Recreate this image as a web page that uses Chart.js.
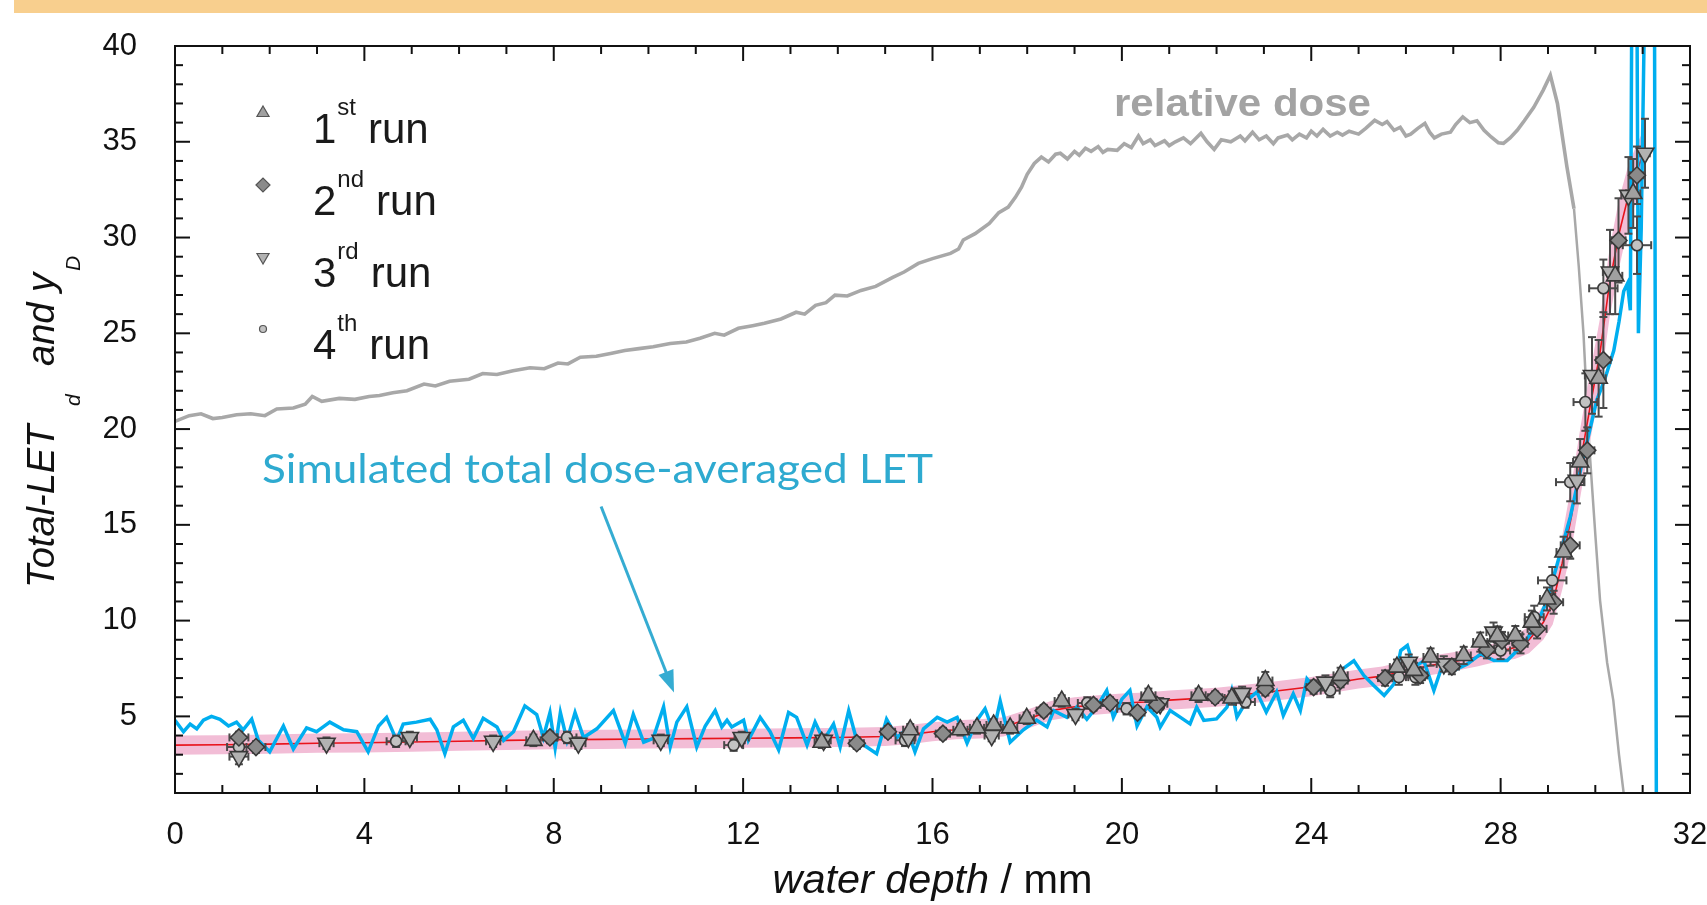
<!DOCTYPE html>
<html>
<head>
<meta charset="utf-8">
<script src="https://cdn.jsdelivr.net/npm/chart.js@4/dist/chart.umd.min.js"></script>
<style>
  html, body { margin: 0; padding: 0; background: #fff; overflow: hidden; }
  canvas { display: block; }
</style>
</head>
<body>
<canvas id="let-chart" width="1707" height="905"></canvas>
<script>
const FONT = '"Liberation Sans", Arial, sans-serif';

// relative dose (scaled onto the LET axis), [depth, value]
const dosePoints = [
  [0,20.4],[0.3,20.7],[0.55,20.8],[0.8,20.55],[1.0,20.6],[1.3,20.75],[1.6,20.8],[1.9,20.7],[2.15,21.05],[2.5,21.1],
  [2.75,21.3],[2.9,21.7],[3.1,21.45],[3.47,21.6],[3.8,21.55],[4.1,21.7],[4.32,21.75],[4.6,21.9],[4.9,22.0],[5.26,22.35],
  [5.5,22.25],[5.8,22.5],[6.21,22.6],[6.5,22.9],[6.8,22.85],[7.14,23.05],[7.5,23.2],[7.8,23.15],[8.09,23.45],[8.3,23.4],
  [8.56,23.75],[8.9,23.8],[9.2,23.95],[9.5,24.1],[9.8,24.2],[10.1,24.3],[10.46,24.47],[10.8,24.55],[11.09,24.74],[11.4,25.0],
  [11.6,24.9],[11.9,25.26],[12.2,25.4],[12.45,25.53],[12.8,25.75],[13.12,26.1],[13.3,26.0],[13.53,26.46],[13.75,26.6],[13.94,26.99],
  [14.2,26.95],[14.49,27.24],[14.8,27.45],[15.16,27.92],[15.4,28.2],[15.7,28.65],[16.0,28.9],[16.38,29.17],[16.55,29.4],[16.65,29.87],
  [16.9,30.2],[17.2,30.74],[17.4,31.3],[17.6,31.59],[17.75,32.1],[17.88,32.63],[18.0,33.3],[18.15,33.87],[18.3,34.2],[18.45,33.95],
  [18.6,34.35],[18.7,34.4],[18.85,34.1],[19.0,34.5],[19.1,34.3],[19.23,34.66],[19.35,34.5],[19.5,34.75],[19.6,34.45],[19.7,34.6],
  [19.9,34.55],[20.05,34.9],[20.2,34.7],[20.35,35.3],[20.45,34.9],[20.6,35.1],[20.7,34.8],[20.9,35.05],[21.0,34.8],[21.13,35.0],
  [21.3,35.2],[21.45,34.9],[21.67,35.44],[21.8,35.0],[21.95,34.6],[22.1,35.1],[22.3,35.0],[22.5,35.3],[22.6,35.05],[22.76,35.5],
  [22.9,35.1],[23.05,35.3],[23.2,34.9],[23.3,35.2],[23.5,35.35],[23.6,35.1],[23.75,35.4],[23.9,35.2],[24.0,35.55],[24.12,35.3],
  [24.25,35.65],[24.4,35.3],[24.55,35.5],[24.66,35.35],[24.8,35.55],[25.0,35.4],[25.15,35.7],[25.34,36.12],[25.5,35.9],[25.6,36.05],
  [25.75,35.6],[25.88,35.76],[26.0,35.3],[26.1,35.4],[26.25,35.7],[26.4,35.96],[26.5,35.5],[26.6,35.2],[26.75,35.4],[26.94,35.5],
  [27.05,35.9],[27.2,36.3],[27.35,36.0],[27.5,36.1],[27.65,35.6],[27.8,35.25],[27.95,34.95],[28.06,34.92],[28.2,35.2],[28.35,35.6],
  [28.5,36.1],[28.7,36.8],[28.9,37.7],[29.05,38.47],[29.2,37.0],[29.4,33.7],[29.55,31.5],[29.65,28.5],[29.75,25.0],[29.82,21.5],
  [29.87,19.2],[30.0,14.5],[30.1,11.06],[30.25,7.8],[30.38,5.84],[30.5,3.0],[30.6,0.97],[30.65,0]
];

// simulated total dose-averaged LET, [depth, value]
const simPoints = [
  [0,4.8],[0.18,4.2],[0.32,4.6],[0.46,4.35],[0.6,4.8],[0.77,5.0],[0.95,4.85],[1.13,4.5],[1.3,4.7],[1.44,4.3],
  [1.62,4.85],[1.76,3.75],[2.0,3.15],[2.29,4.5],[2.5,3.3],[2.78,4.4],[2.99,4.2],[3.13,4.45],[3.27,4.7],[3.56,4.3],
  [3.84,4.2],[4.08,3.15],[4.3,4.5],[4.47,4.95],[4.68,3.75],[4.82,4.6],[5.1,4.7],[5.39,4.85],[5.53,4.3],[5.7,3.05],
  [5.88,4.45],[6.09,4.8],[6.3,3.85],[6.51,4.9],[6.8,4.45],[6.94,3.75],[7.15,4.2],[7.39,5.55],[7.64,5.1],[7.78,3.9],
  [7.92,5.2],[8.03,3.35],[8.14,5.2],[8.28,3.75],[8.45,5.2],[8.63,3.9],[8.91,4.35],[9.26,5.3],[9.51,3.6],[9.68,5.1],
  [9.9,3.65],[10.1,3.85],[10.32,5.5],[10.46,3.4],[10.6,4.7],[10.81,5.5],[11.02,3.4],[11.2,4.5],[11.41,5.3],[11.55,4.45],
  [11.66,4.8],[11.76,4.45],[12.01,4.8],[12.11,3.75],[12.36,4.95],[12.57,4.2],[12.75,3.25],[12.96,5.2],[13.13,4.95],[13.35,3.5],
  [13.52,4.7],[13.7,3.75],[13.91,4.6],[14.05,3.4],[14.23,5.3],[14.4,3.75],[14.61,3.4],[14.82,3.05],[15.03,4.85],[15.25,3.9],
  [15.46,4.35],[15.63,3.15],[15.81,4.35],[16.1,4.95],[16.31,4.7],[16.52,4.95],[16.73,3.6],[16.94,4.8],[17.11,5.4],[17.29,4.2],
  [17.43,5.8],[17.64,3.65],[17.92,4.3],[18.2,4.8],[18.42,4.45],[18.56,5.3],[18.84,4.95],[19.05,5.5],[19.26,4.85],[19.47,5.5],
  [19.68,6.35],[19.82,4.95],[20.0,5.9],[20.17,6.35],[20.32,4.5],[20.53,5.5],[20.74,4.95],[20.81,4.44],[21.02,5.31],[21.23,4.96],
  [21.44,4.61],[21.58,5.48],[21.73,4.79],[22.0,4.87],[22.22,5.48],[22.32,6.35],[22.43,4.96],[22.64,5.83],[22.85,6.27],[23.05,5.22],
  [23.27,6.27],[23.41,5.05],[23.62,6.18],[23.77,5.31],[23.91,6.96],[24.12,6.35],[24.41,6.7],[24.62,7.4],[24.9,7.9],[25.11,7.14],
  [25.32,6.61],[25.54,6.09],[25.75,6.7],[25.89,8.44],[26.03,8.7],[26.17,7.57],[26.38,7.9],[26.59,6.35],[26.8,7.9],[27.01,7.4],
  [27.3,7.74],[27.58,8.26],[27.86,7.92],[28.14,7.92],[28.35,8.44],[28.56,9.05],[28.77,9.84],[28.98,11.06],[29.2,13.0],[29.47,15.4],
  [29.7,18.0],[29.85,19.6],[30.03,21.5],[30.2,22.6],[30.39,24.1],[30.5,25.6],[30.6,27.2],[30.68,27.6],[30.74,26.2],[30.77,42],
  [30.88,42],[30.91,25.0],[30.97,30.5],[31.04,42],[31.25,42],[31.29,0]
];

// fitted LET curve with its uncertainty band
const fitX = [0,1,2,3,4,5,6,7,8,9,10,11,12,13,14,15,15.5,16,16.5,17,17.5,18,18.5,19,19.5,20,20.5,21,22,23,24,25,25.5,26,26.5,27,27.5,28,28.3,28.6,28.9,29.1,29.3,29.5,29.7,29.9,30.1,30.3,30.5,30.7,30.9,31.0];
const fitY = [3.5,3.52,3.55,3.6,3.62,3.66,3.7,3.75,3.78,3.8,3.82,3.84,3.86,3.88,3.9,3.95,4.05,4.2,4.3,4.35,4.45,4.85,5.3,5.5,5.6,5.7,5.75,5.85,6.0,6.25,6.55,6.95,7.1,7.4,7.65,7.85,8.1,8.4,8.6,9.0,9.9,10.9,13.0,15.5,18.5,21.3,24.0,27.6,30.2,32.2,33.6,34.3];
const fitBand = [0.5,0.5,0.5,0.5,0.5,0.5,0.5,0.5,0.5,0.5,0.5,0.5,0.5,0.5,0.5,0.5,0.5,0.5,0.5,0.5,0.5,0.5,0.5,0.5,0.5,0.5,0.5,0.5,0.5,0.5,0.5,0.5,0.5,0.5,0.5,0.5,0.5,0.5,0.6,0.7,0.9,1.1,1.4,1.7,1.8,1.8,1.8,1.8,1.8,1.6,1.4,1.2];

// measured yD, [depth, value, depth error, value error]
const run1 = [[7.57,3.75,0.15,0.3],[13.66,3.65,0.15,0.3],[15.53,4.3,0.15,0.3],[16.59,4.3,0.15,0.3],[16.94,4.4,0.15,0.3],[17.29,4.55,0.15,0.3],[17.64,4.4,0.15,0.3],[17.99,4.9,0.15,0.3],[18.73,5.8,0.15,0.3],[20.56,6.1,0.15,0.35],[21.62,6.1,0.15,0.35],[22.32,5.96,0.15,0.35],[23.03,6.87,0.15,0.45],[24.62,7.14,0.15,0.4],[25.81,7.57,0.15,0.4],[26.17,7.4,0.15,0.4],[26.52,8.1,0.15,0.45],[27.22,8.18,0.15,0.45],[27.57,8.88,0.15,0.5],[27.93,9.2,0.15,0.5],[28.31,9.22,0.15,0.5],[28.66,9.92,0.15,0.6],[28.98,11.13,0.15,0.6],[29.33,13.58,0.15,0.8],[29.68,18.28,0.15,1.2],[30.07,22.65,0.15,2.0],[30.42,28.0,0.15,2.0],[30.8,32.3,0.15,1.8]];
const run2 = [[1.35,3.9,0.2,0.3],[1.71,3.4,0.2,0.3],[7.92,3.9,0.15,0.3],[14.4,3.6,0.15,0.3],[15.06,4.2,0.15,0.3],[16.22,4.1,0.15,0.3],[18.35,5.3,0.15,0.3],[19.4,5.6,0.15,0.3],[19.75,5.7,0.15,0.3],[20.33,5.2,0.15,0.3],[20.74,5.6,0.15,0.3],[21.97,6.0,0.15,0.3],[23.03,6.44,0.15,0.35],[24.05,6.53,0.15,0.35],[24.62,6.87,0.15,0.35],[25.56,7.0,0.15,0.4],[26.3,7.14,0.15,0.4],[26.97,7.6,0.15,0.4],[27.71,8.48,0.15,0.45],[28.03,8.96,0.15,0.45],[28.42,8.79,0.15,0.5],[28.77,9.57,0.2,0.5],[29.12,10.96,0.2,0.6],[29.47,13.93,0.2,0.7],[29.83,18.89,0.15,1.2],[30.17,23.6,0.15,2.5],[30.49,29.85,0.15,2.2],[30.88,33.25,0.15,1.5]];
const run3 = [[1.35,2.9,0.2,0.4],[3.2,3.6,0.15,0.3],[4.96,3.9,0.15,0.3],[6.72,3.7,0.15,0.3],[8.52,3.6,0.15,0.3],[10.26,3.75,0.15,0.3],[11.97,3.9,0.15,0.3],[13.7,3.75,0.15,0.3],[15.49,3.9,0.15,0.3],[17.25,4.0,0.15,0.3],[19.02,5.1,0.15,0.3],[20.81,5.66,0.15,0.3],[22.54,6.2,0.15,0.35],[24.3,6.79,0.15,0.35],[26.06,7.83,0.15,0.4],[26.8,7.74,0.15,0.4],[27.85,9.4,0.15,0.5],[29.61,17.32,0.15,1.2],[29.93,22.8,0.15,2.0],[30.31,28.2,0.15,2.2],[30.7,32.2,0.15,2.0],[31.05,34.4,0.1,1.8]];
const run4 = [[1.35,3.4,0.25,0.3],[4.67,3.7,0.2,0.3],[8.28,3.9,0.2,0.3],[11.8,3.5,0.2,0.3],[15.42,3.75,0.2,0.3],[19.27,5.7,0.2,0.3],[20.1,5.4,0.2,0.3],[22.61,5.75,0.2,0.3],[24.4,6.35,0.2,0.35],[25.85,7.05,0.2,0.4],[26.2,7.05,0.2,0.4],[28.0,8.44,0.2,0.45],[28.35,8.96,0.2,0.5],[28.71,10.18,0.2,0.6],[29.09,12.1,0.3,0.7],[29.47,17.23,0.3,1.0],[29.79,21.41,0.25,1.5],[30.17,27.35,0.3,1.5],[30.88,29.6,0.3,1.5]];

const runLabels = [['1', 'st'], ['2', 'nd'], ['3', 'rd'], ['4', 'th']];
const runStyles = [
  { pointStyle: 'triangle', radius: 10, rotation: 0, fill: '#a0a0a0' },
  { pointStyle: 'rectRot', radius: 8.5, rotation: 0, fill: '#8a8a8a' },
  { pointStyle: 'triangle', radius: 10, rotation: 180, fill: '#b2b2b2' },
  { pointStyle: 'circle', radius: 5.5, rotation: 0, fill: '#c2c2c2' }
];

const SIM_INDEX = 4;

function toXY(xs, ys) {
  return xs.map((x, i) => ({ x, y: ys[i] }));
}

function lineSet(data, color, width, order) {
  return {
    data, borderColor: color, borderWidth: width, pointRadius: 0,
    tension: 0, fill: false, order
  };
}

const runs = [run1, run2, run3, run4];

const datasets = [
  Object.assign(lineSet(dosePoints.map(p => ({ x: p[0], y: p[1] })), '#a8a8a8', 3.6, 5), {
    segment: { borderWidth: c => (c.p0.parsed.x > 29.5 ? 2.5 : 3.6) }
  }),
  lineSet(toXY(fitX, fitY.map((v, i) => v + fitBand[i])), 'rgba(0,0,0,0)', 0, 4),
  Object.assign(lineSet(toXY(fitX, fitY.map((v, i) => v - fitBand[i])), 'rgba(0,0,0,0)', 0, 4), {
    fill: '-1', backgroundColor: '#f2bdd6'
  }),
  lineSet(toXY(fitX, fitY), '#e8141c', 1.6, 3),
  lineSet(simPoints.map(p => ({ x: p[0], y: p[1] })), '#00aeef', 3.5, 2)
];

runs.forEach((run, i) => {
  const st = runStyles[i];
  datasets.push({
    data: run.map(p => ({ x: p[0], y: p[1] })),
    showLine: false,
    pointStyle: st.pointStyle,
    pointRadius: st.radius,
    pointRotation: st.rotation,
    pointBackgroundColor: st.fill,
    pointBorderColor: '#383838',
    pointBorderWidth: 1.6,
    order: 1
  });
});

function line(ctx, x1, y1, x2, y2) {
  ctx.beginPath();
  ctx.moveTo(x1, y1);
  ctx.lineTo(x2, y2);
  ctx.stroke();
}

function drawErrorBars(chart) {
  const { ctx, chartArea: a, scales: { x, y } } = chart;
  ctx.save();
  ctx.beginPath();
  ctx.rect(a.left, a.top, a.right - a.left, a.bottom - a.top);
  ctx.clip();
  ctx.strokeStyle = '#4a4a4a';
  ctx.lineWidth = 2;
  runs.forEach(run => {
    run.forEach(([vx, vy, ex, ey]) => {
      const px = x.getPixelForValue(vx), py = y.getPixelForValue(vy);
      const x1 = x.getPixelForValue(vx - ex), x2 = x.getPixelForValue(vx + ex);
      const y1 = y.getPixelForValue(vy - ey), y2 = y.getPixelForValue(vy + ey);
      line(ctx, x1, py, x2, py);
      line(ctx, px, y1, px, y2);
      line(ctx, x1, py - 4, x1, py + 4);
      line(ctx, x2, py - 4, x2, py + 4);
      line(ctx, px - 4, y1, px + 4, y1);
      line(ctx, px - 4, y2, px + 4, y2);
    });
  });
  ctx.restore();
}

function drawFrame(chart) {
  const { ctx, chartArea: a, scales: { x, y } } = chart;
  ctx.save();
  ctx.strokeStyle = '#111';
  ctx.lineWidth = 2;
  ctx.strokeRect(a.left, a.top, a.right - a.left, a.bottom - a.top);
  for (let v = x.min; v <= x.max; v++) {
    const px = x.getPixelForValue(v);
    const len = v % 4 === 0 ? 15 : 8;
    line(ctx, px, a.bottom, px, a.bottom - len);
    line(ctx, px, a.top, px, a.top + len);
  }
  for (let v = y.min; v <= y.max; v++) {
    const py = y.getPixelForValue(v);
    const len = v % 5 === 0 ? 15 : 8;
    line(ctx, a.left, py, a.left + len, py);
    line(ctx, a.right, py, a.right - len, py);
  }
  ctx.restore();
}

// draw text squeezed or stretched horizontally to a given width
function fitText(ctx, text, x, y, width) {
  const w = ctx.measureText(text).width;
  ctx.save();
  ctx.translate(x, y);
  ctx.scale(width / w, 1);
  ctx.fillText(text, 0, 0);
  ctx.restore();
}

function drawLabels(chart) {
  const { ctx, chartArea: a, scales: { x, y } } = chart;
  ctx.save();
  ctx.fillStyle = '#111';
  ctx.textBaseline = 'alphabetic';

  // y axis title
  ctx.save();
  ctx.translate(54, 588);
  ctx.rotate(-Math.PI / 2);
  ctx.font = 'italic 38px ' + FONT;
  ctx.fillText('Total-LET', 0, 0);
  ctx.font = 'italic 21px ' + FONT;
  ctx.fillText('d', 182, 26);
  ctx.font = 'italic 38px ' + FONT;
  ctx.fillText('and y', 222, 0);
  const w2 = ctx.measureText('and y').width;
  ctx.font = 'italic 21px ' + FONT;
  ctx.fillText('D', 224 + w2, 26);
  ctx.restore();

  // x axis title
  ctx.font = 'italic 41px ' + FONT;
  const t1 = 'water depth ';
  const wa = ctx.measureText(t1).width;
  ctx.font = '41px ' + FONT;
  const wb = ctx.measureText('/ mm').width;
  const sx = 320 / (wa + wb);
  const x0 = (a.left + a.right) / 2 - 160;
  ctx.save();
  ctx.translate(x0, 893);
  ctx.scale(sx, 1);
  ctx.font = 'italic 41px ' + FONT;
  ctx.fillText(t1, 0, 0);
  ctx.font = '41px ' + FONT;
  ctx.fillText('/ mm', wa, 0);
  ctx.restore();

  // legend
  runLabels.forEach((lab, i) => {
    const rowY = a.top + 67 + i * 72;
    const st = runStyles[i];
    ctx.fillStyle = st.fill;
    ctx.strokeStyle = '#555';
    ctx.lineWidth = 1.2;
    Chart.helpers.drawPoint(ctx, {
      pointStyle: st.pointStyle,
      radius: st.pointStyle === 'circle' ? 3.5 : 7,
      rotation: st.rotation,
      borderWidth: 1.2
    }, a.left + 88, rowY);
    ctx.fillStyle = '#1a1a1a';
    const base = rowY + 30;
    let tx = a.left + 138;
    ctx.font = '42px ' + FONT;
    ctx.fillText(lab[0], tx, base);
    tx += ctx.measureText(lab[0]).width + 1;
    ctx.font = '24px ' + FONT;
    ctx.fillText(lab[1], tx, base - 28);
    tx += ctx.measureText(lab[1]).width + 12;
    ctx.font = '42px ' + FONT;
    ctx.fillText('run', tx, base);
  });

  // relative dose label
  ctx.fillStyle = '#a3a3a3';
  ctx.font = 'bold 38px ' + FONT;
  fitText(ctx, 'relative dose', 1114, 116, 257);

  // simulated LET annotation with arrow
  ctx.fillStyle = '#2eaad0';
  ctx.font = '40px Lato, "Open Sans", sans-serif';
  fitText(ctx, 'Simulated total dose-averaged LET', x.getPixelForValue(1.84), y.getPixelForValue(17.2), 671);

  const tx0 = x.getPixelForValue(9.0), ty0 = y.getPixelForValue(15.96);
  const tx1 = x.getPixelForValue(10.54), ty1 = y.getPixelForValue(6.25);
  const ang = Math.atan2(ty1 - ty0, tx1 - tx0);
  ctx.strokeStyle = '#35acd2';
  ctx.lineWidth = 3;
  line(ctx, tx0, ty0, tx1 - 16 * Math.cos(ang), ty1 - 16 * Math.sin(ang));
  ctx.fillStyle = '#35acd2';
  ctx.beginPath();
  ctx.moveTo(tx1, ty1);
  ctx.lineTo(tx1 - 22 * Math.cos(ang) + 8 * Math.sin(ang), ty1 - 22 * Math.sin(ang) - 8 * Math.cos(ang));
  ctx.lineTo(tx1 - 22 * Math.cos(ang) - 8 * Math.sin(ang), ty1 - 22 * Math.sin(ang) + 8 * Math.cos(ang));
  ctx.closePath();
  ctx.fill();

  ctx.restore();
}

const decor = {
  id: 'decor',
  beforeDraw(chart) {
    const ctx = chart.ctx;
    ctx.save();
    ctx.fillStyle = '#ffffff';
    ctx.fillRect(0, 0, chart.width, chart.height);
    ctx.fillStyle = '#f8cf8e';
    ctx.fillRect(14, 0, chart.width - 14, 13);
    ctx.restore();
  },
  afterDatasetDraw(chart, args) {
    if (args.index === SIM_INDEX) drawErrorBars(chart);
  },
  afterDraw(chart) {
    drawFrame(chart);
    drawLabels(chart);
  }
};

const tickFont = { family: FONT, size: 31 };

new Chart(document.getElementById('let-chart'), {
  type: 'line',
  data: { datasets },
  options: {
    responsive: false,
    animation: false,
    devicePixelRatio: 1,
    layout: { padding: { left: 0, top: 46, right: 17, bottom: 0 } },
    plugins: {
      legend: { display: false },
      tooltip: { enabled: false }
    },
    scales: {
      x: {
        type: 'linear',
        min: 0,
        max: 32,
        afterFit: s => {
          s.height = 112;
          s.paddingLeft = 0;
          s.paddingRight = 0;
        },
        grid: { display: false, drawTicks: false },
        border: { display: false },
        ticks: {
          stepSize: 1,
          autoSkip: false,
          maxRotation: 0,
          padding: 24,
          color: '#111',
          font: tickFont,
          callback: v => (v % 4 === 0 ? String(v) : '')
        }
      },
      y: {
        type: 'linear',
        min: 1,
        max: 40,
        afterFit: s => {
          s.width = 175;
          s.paddingTop = 0;
          s.paddingBottom = 0;
        },
        grid: { display: false, drawTicks: false },
        border: { display: false },
        ticks: {
          stepSize: 1,
          autoSkip: false,
          padding: 38,
          color: '#111',
          font: tickFont,
          callback: v => (v % 5 === 0 ? String(v) : '')
        }
      }
    }
  },
  plugins: [decor]
});
</script>
</body>
</html>
